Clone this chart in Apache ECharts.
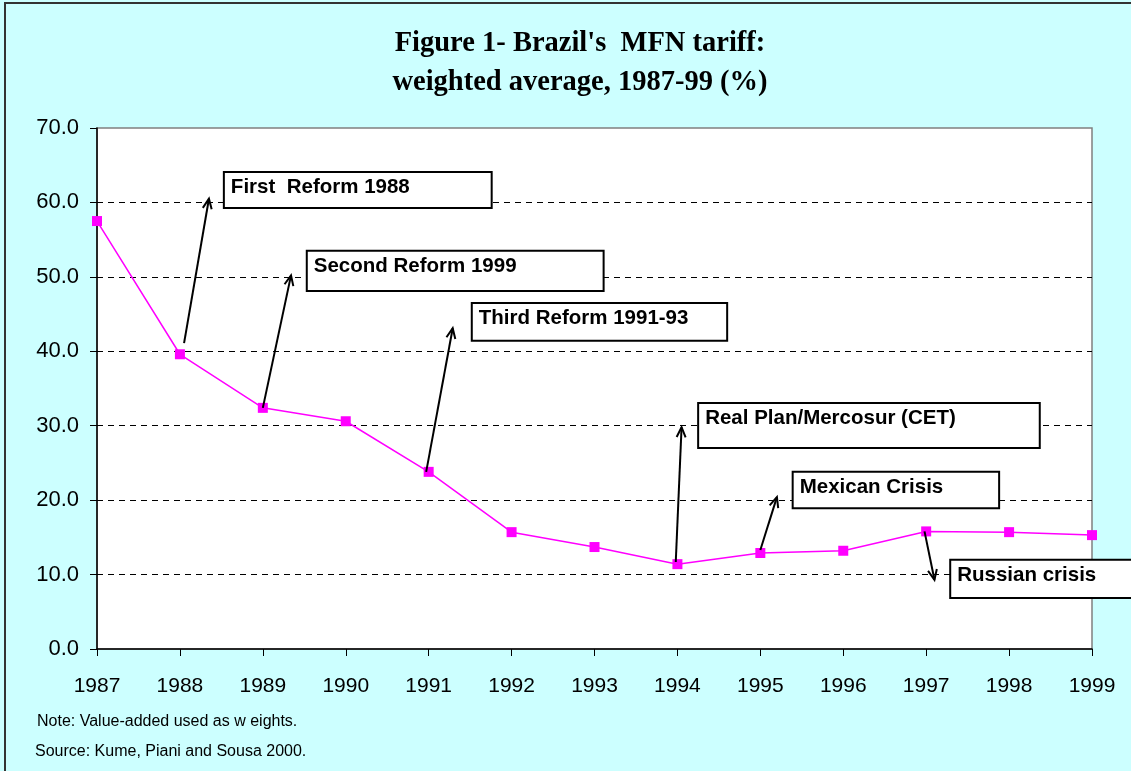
<!DOCTYPE html>
<html>
<head>
<meta charset="utf-8">
<script src="https://cdn.jsdelivr.net/npm/echarts@6/dist/echarts.min.js"></script>
<style>
  html, body { margin: 0; padding: 0; background: #CCFFFF; }
  #main { width: 1131px; height: 771px; }
</style>
</head>
<body>
<div id="main"></div>
<script>
var years = [1987, 1988, 1989, 1990, 1991, 1992, 1993, 1994, 1995, 1996, 1997, 1998, 1999];
var tariff = [57.5, 39.6, 32.4, 30.6, 23.8, 15.7, 13.7, 11.4, 12.9, 13.2, 15.8, 15.7, 15.3];
var yTicks = [0, 10, 20, 30, 40, 50, 60, 70];

// callouts: arrow from a data point to tip, box given in data units
var notes = [
    { text: 'First  Reform 1988', from: 1, dx: 0.05, dy: 1.5, tip: [1988.35, 60.5], box: [1988.53, 64.1, 1991.76, 59.25] },
    { text: 'Second Reform 1999', from: 2, dx: 0, dy: 0, tip: [1989.34, 50.2], box: [1989.53, 53.5, 1993.11, 48.1] },
    { text: 'Third Reform 1991-93', from: 4, dx: -0.03, dy: 0, tip: [1991.29, 43.1], box: [1991.52, 46.5, 1994.6, 41.4] },
    { text: 'Real Plan/Mercosur (CET)', from: 7, dx: -0.02, dy: 0.3, tip: [1994.05, 29.8], box: [1994.25, 33.05, 1998.37, 27.0] },
    { text: 'Mexican Crisis', from: 8, dx: 0, dy: 0.4, tip: [1995.2, 20.4], box: [1995.39, 23.8, 1997.88, 18.9] },
    { text: 'Russian crisis', from: 10, dx: -0.02, dy: 0, tip: [1997.1, 9.3], box: [1997.29, 12.0, 1999.75, 6.85] }
];

var chartDom = document.getElementById('main');
var myChart = echarts.init(chartDom);

var points = years.map(function (y, i) { return [y, tariff[i]]; });

var option = {
    backgroundColor: '#CCFFFF',
    animation: false,
    grid: {
        left: 97,
        right: 39,
        top: 128,
        bottom: 122,
        show: true,
        backgroundColor: '#ffffff',
        borderColor: '#808080',
        borderWidth: 1.5
    },
    xAxis: {
        type: 'value',
        min: 1987,
        max: 1999,
        interval: 1,
        axisLine: { lineStyle: { color: '#000', width: 1.5 } },
        axisTick: { show: true, length: 7, lineStyle: { color: '#000' } },
        axisLabel: {
            color: '#000', fontFamily: 'Arial, Liberation Sans', fontSize: 21, margin: 27,
            formatter: function (v) { return String(v); }
        },
        splitLine: { show: false }
    },
    yAxis: {
        type: 'value',
        min: yTicks[0],
        max: yTicks[yTicks.length - 1],
        interval: 10,
        axisLine: { show: true, lineStyle: { color: '#000', width: 1.5 } },
        axisTick: { show: true, length: 7, lineStyle: { color: '#000' } },
        axisLabel: {
            color: '#000', fontFamily: 'Arial, Liberation Sans', fontSize: 22, margin: 18,
            formatter: function (v) { return v.toFixed(1); }
        },
        splitLine: {
            show: true,
            lineStyle: {
                type: [6, 5],
                width: 1,
                color: ['rgba(0,0,0,0)', '#000', '#000', '#000', '#000', '#000', '#000', 'rgba(0,0,0,0)']
            }
        }
    },
    series: [{
        type: 'line',
        data: points,
        symbol: 'rect',
        symbolSize: 10,
        lineStyle: { color: '#FF00FF', width: 1.5 },
        itemStyle: { color: '#FF00FF' },
        z: 3
    }]
};

myChart.setOption(option);

function px(p) { return myChart.convertToPixel({ gridIndex: 0 }, p); }

var gfx = [];
// outer frame
gfx.push({ type: 'rect', shape: { x: 5, y: 3, width: 1140, height: 780 }, style: { fill: 'none', stroke: '#333', lineWidth: 2 }, z: 1 });
// title
var titleFont = 'bold 28.5px "Liberation Serif", "Times New Roman", serif';
gfx.push({ type: 'text', x: 580, y: 44, style: { text: "Figure 1- Brazil's  MFN tariff:", fill: '#000', font: titleFont, textAlign: 'center', textVerticalAlign: 'middle' } });
gfx.push({ type: 'text', x: 580, y: 83, style: { text: 'weighted average, 1987-99 (%)', fill: '#000', font: titleFont, textAlign: 'center', textVerticalAlign: 'middle' } });
// footnotes
gfx.push({ type: 'text', left: 37, top: 714, style: { text: 'Note: Value-added used as w eights.', fill: '#000', font: '16px Arial, "Liberation Sans", sans-serif' } });
gfx.push({ type: 'text', left: 35, top: 744, style: { text: 'Source: Kume, Piani and Sousa 2000.', fill: '#000', font: '16px Arial, "Liberation Sans", sans-serif' } });

notes.forEach(function (n) {
    var a = px([years[n.from] + n.dx, tariff[n.from] + n.dy]);
    var b = px(n.tip);
    var tl = px([n.box[0], n.box[1]]);
    var br = px([n.box[2], n.box[3]]);
    // arrow shaft
    gfx.push({ type: 'line', shape: { x1: a[0], y1: a[1], x2: b[0], y2: b[1] }, style: { stroke: '#000', lineWidth: 2 }, z: 10 });
    // open arrow head
    var ang = Math.atan2(b[1] - a[1], b[0] - a[0]);
    var L = 11, w = 0.42;
    var p1 = [b[0] - L * Math.cos(ang - w), b[1] - L * Math.sin(ang - w)];
    var p2 = [b[0] - L * Math.cos(ang + w), b[1] - L * Math.sin(ang + w)];
    gfx.push({ type: 'polyline', shape: { points: [p1, b, p2] }, style: { stroke: '#000', lineWidth: 2, fill: null }, z: 10 });
    // box
    gfx.push({ type: 'rect', shape: { x: tl[0], y: tl[1], width: br[0] - tl[0], height: br[1] - tl[1] }, style: { fill: '#fff', stroke: '#000', lineWidth: 2 }, z: 10 });
    gfx.push({ type: 'text', x: tl[0] + 7, y: tl[1] + 5, style: { text: n.text, fill: '#000', font: 'bold 20.5px Arial, "Liberation Sans", sans-serif' }, z: 11 });
});

myChart.setOption({ graphic: gfx });
</script>
</body>
</html>
